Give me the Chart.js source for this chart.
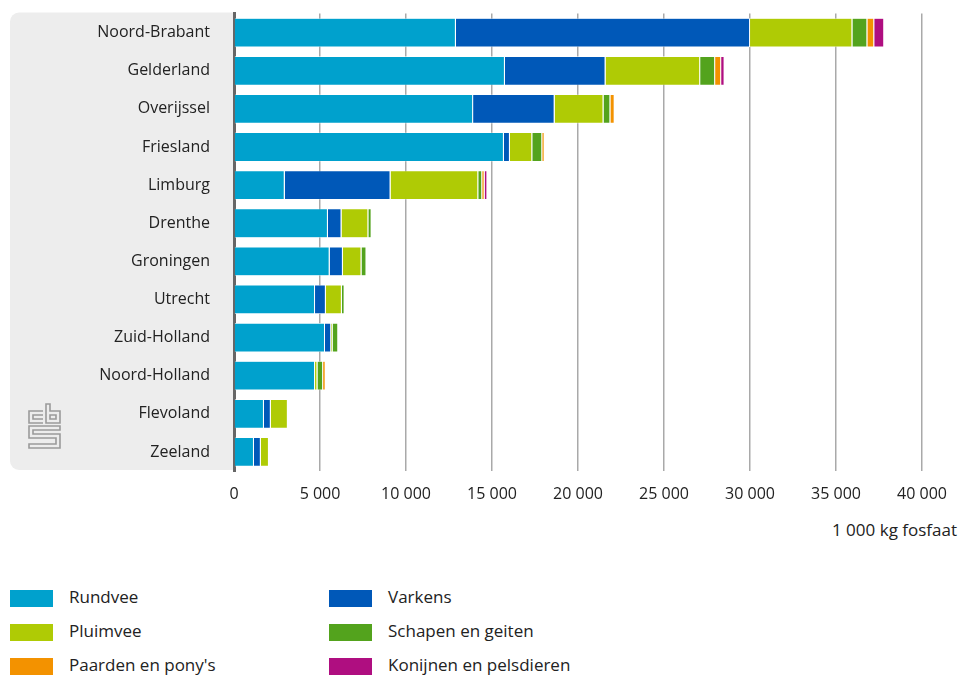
<!DOCTYPE html>
<html>
<head>
<meta charset="utf-8">
<script src="https://cdn.jsdelivr.net/npm/chart.js@4"></script>
<style>
  body { margin: 0; background: #fff; font-family: "Open Sans", sans-serif; color: #222; }
  #wrap { position: relative; width: 961px; height: 675px; overflow: hidden; }
  #chartBox { position: absolute; left: 0; top: -20px; width: 961px; height: 532px; }
  #axisTitle { position: absolute; right: 4px; top: 518px; font-size: 17px; }
  .leg { position: absolute; font-size: 17px; line-height: 18px; }
  .leg span { position: absolute; left: 0; top: 0; width: 43px; height: 17px; }
  .leg b { position: absolute; left: 59px; top: -2px; font-weight: normal; white-space: nowrap; }
</style>
</head>
<body>
<div id="wrap">
  <div id="chartBox"><canvas id="barChart"></canvas></div>
  <div id="axisTitle">1 000 kg fosfaat</div>
  <div id="legend"></div>
</div>
<script>
console.log("fosfaat chart");

// provinces, top to bottom
const provinces = ["Noord-Brabant", "Gelderland", "Overijssel", "Friesland", "Limburg", "Drenthe",
  "Groningen", "Utrecht", "Zuid-Holland", "Noord-Holland", "Flevoland", "Zeeland"];

// 1 000 kg fosfaat per diersoort
const rundvee   = [12900, 15750, 13900, 15690, 2950, 5460, 5560, 4710, 5290, 4710, 1740, 1160];
const varkens   = [17100, 5850, 4740, 350, 6150, 790, 770, 630, 360, 0, 400, 400];
const pluimvee  = [5950, 5500, 2840, 1300, 5100, 1560, 1080, 930, 80, 140, 990, 470];
const schapen   = [870, 870, 400, 580, 230, 190, 290, 160, 330, 330, 0, 0];
const paarden   = [400, 350, 250, 140, 140, 0, 0, 0, 0, 150, 0, 0];
const konijnen  = [580, 200, 0, 0, 160, 0, 0, 0, 0, 0, 0, 0];

const seriesNames = ["Rundvee", "Varkens", "Pluimvee", "Schapen en geiten", "Paarden en pony's", "Konijnen en pelsdieren"];
const seriesColors = ["#00a1cd", "#0058b8", "#afcb05", "#53a31d", "#f39200", "#af0e80"];
const seriesValues = [rundvee, varkens, pluimvee, schapen, paarden, konijnen];

const xTicks = [0, 5000, 10000, 15000, 20000, 25000, 30000, 35000, 40000];

function fmt(v) {
  return String(v).replace(/\B(?=(\d{3})+(?!\d))/g, " ");
}

//grey panel behind the province names, with the cbs logo
const panelPlugin = {
  id: "panel",
  beforeDraw(chart) {
    const ctx = chart.ctx;
    const a = chart.chartArea;
    const x = 10, y = a.top - 1, w = a.left - 10, h = a.bottom - a.top, r = 9;
    ctx.save();
    ctx.fillStyle = "#ededed";
    ctx.beginPath();
    ctx.moveTo(x + r, y);
    ctx.lineTo(x + w, y);
    ctx.lineTo(x + w, y + h);
    ctx.lineTo(x + r, y + h);
    ctx.arcTo(x, y + h, x, y + h - r, r);
    ctx.lineTo(x, y + r);
    ctx.arcTo(x, y, x + r, y, r);
    ctx.closePath();
    ctx.fill();

    // simple cbs logo, placed relative to the bottom of the panel
    ctx.strokeStyle = "#9a9a9a";
    ctx.lineWidth = 1.6;
    const lx = 29, ly = a.bottom - 67;
    ctx.beginPath();
    // c
    ctx.moveTo(43, ly + 7); ctx.lineTo(lx, ly + 7); ctx.lineTo(lx, ly + 19); ctx.lineTo(43, ly + 19);
    ctx.moveTo(43, ly + 11); ctx.lineTo(lx + 4, ly + 11); ctx.lineTo(lx + 4, ly + 15); ctx.lineTo(43, ly + 15);
    // b
    ctx.moveTo(46, ly); ctx.lineTo(46, ly + 19); ctx.lineTo(60, ly + 19); ctx.lineTo(60, ly + 7); ctx.lineTo(50, ly + 7); ctx.lineTo(50, ly);
    ctx.closePath();
    ctx.rect(50, ly + 11, 6, 4);
    // s
    ctx.moveTo(lx, ly + 22); ctx.lineTo(60, ly + 22); ctx.lineTo(60, ly + 26); ctx.lineTo(lx + 4, ly + 26);
    ctx.lineTo(lx + 4, ly + 30); ctx.lineTo(60, ly + 30); ctx.lineTo(60, ly + 44); ctx.lineTo(lx, ly + 44);
    ctx.lineTo(lx, ly + 40); ctx.lineTo(56, ly + 40); ctx.lineTo(56, ly + 34); ctx.lineTo(lx, ly + 34); ctx.closePath();
    ctx.stroke();
    ctx.restore();
  }
};

window.addEventListener("DOMContentLoaded", () => {
  const datasets = seriesNames.map((name, i) => ({
    label: name,
    data: seriesValues[i],
    backgroundColor: seriesColors[i],
    borderColor: "#ffffff",
    borderWidth: { left: 0, right: 1, top: 0.6, bottom: 0.6 },
    borderSkipped: false,
    categoryPercentage: 1,
    barPercentage: 0.76,
  }));

  new Chart(document.getElementById("barChart"), {
    type: "bar",
    data: { labels: provinces, datasets: datasets },
    plugins: [panelPlugin],
    options: {
      indexAxis: "y",
      responsive: true,
      maintainAspectRatio: false,
      animation: false,
      layout: { padding: { top: 13, right: 36, left: 0, bottom: 0 } },
      plugins: { legend: { display: false }, tooltip: { enabled: false } },
      scales: {
        x: {
          stacked: true,
          min: 0,
          max: 40000,
          afterBuildTicks: (scale) => { scale.ticks = xTicks.map((v) => ({ value: v })); },
          afterFit: (scale) => { scale.height = 41; },
          ticks: {
            callback: (v) => fmt(v),
            color: "#222",
            font: { family: "Open Sans", size: 16 },
            padding: 14,
            maxRotation: 0,
          },
          grid: { color: "#a9a9a9", lineWidth: 1.5, drawTicks: false },
          border: { display: false },
        },
        y: {
          stacked: true,
          afterFit: (scale) => { scale.width = 234; },
          ticks: {
            color: "#222",
            font: { family: "Open Sans", size: 16 },
            padding: 24,
          },
          grid: { display: false, drawTicks: false },
          border: { display: true, color: "#666666", width: 3 },
        },
      },
    },
  });

  //legend as html, two columns
  const legendElt = document.getElementById("legend");
  seriesNames.forEach((name, i) => {
    const item = document.createElement("div");
    item.className = "leg";
    item.style.left = (i % 2 === 0 ? 10 : 329) + "px";
    item.style.top = (590 + Math.floor(i / 2) * 34) + "px";
    item.innerHTML = '<span style="background:' + seriesColors[i] + '"></span><b>' + name + "</b>";
    legendElt.appendChild(item);
  });
});
</script>
</body>
</html>
